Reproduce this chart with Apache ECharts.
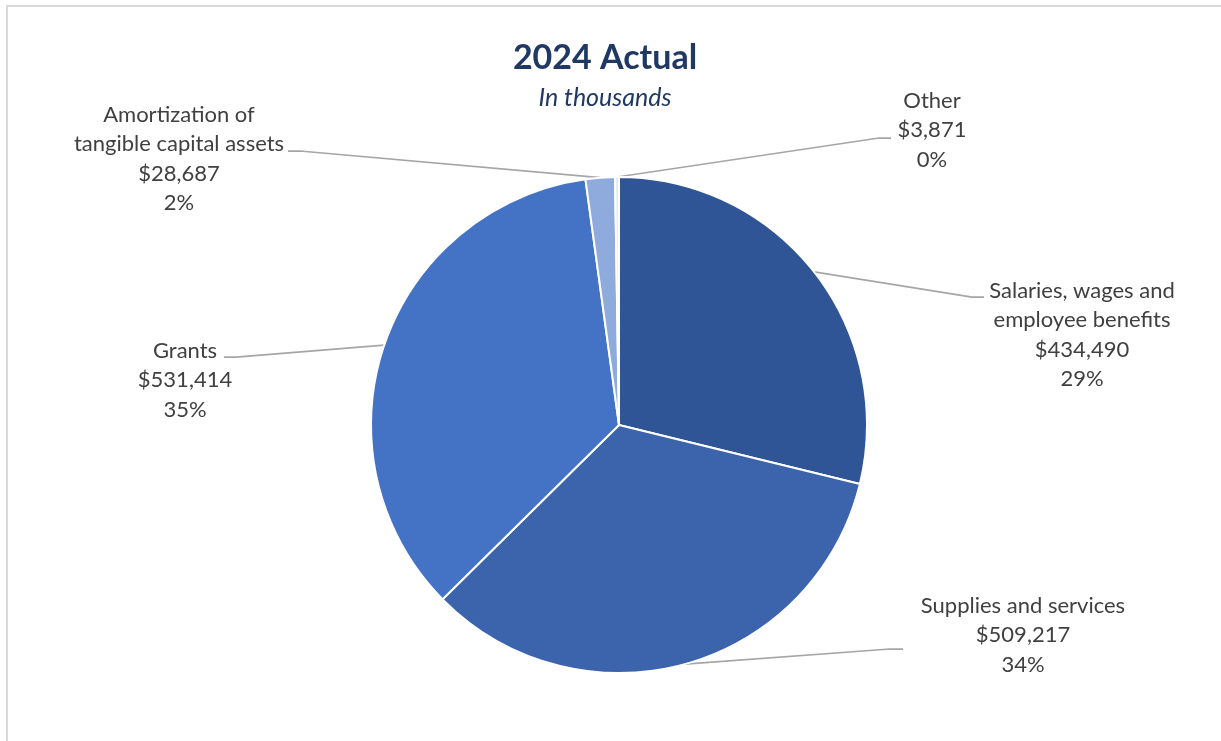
<!DOCTYPE html>
<html>
<head>
<meta charset="utf-8">
<title>2024 Actual</title>
<script src="https://cdn.jsdelivr.net/npm/echarts@6/dist/echarts.min.js"></script>
<style>
  html, body { margin: 0; padding: 0; background: #ffffff; }
  #frame {
    position: absolute; left: 6px; top: 5px; right: 0; bottom: 0;
    border-top: 2px solid #d9d9d9; border-left: 2px solid #d9d9d9;
  }
  #chart { position: absolute; left: 0; top: 0; width: 1221px; height: 741px; }
</style>
</head>
<body>
<div id="frame"></div>
<div id="chart"></div>
<script>
// Expense categories (in thousands of dollars), clockwise from 12 o'clock
const categories = [
  'Salaries, wages and\nemployee benefits',
  'Supplies and services',
  'Grants',
  'Amortization of\ntangible capital assets',
  'Other'
];
const amounts = [434490, 509217, 531414, 28687, 3871];
const sliceColors = ['#2f5597', '#3b64ad', '#4472c4', '#8faadc', '#e4ebf6'];

// Where each label block sits and where its leader line meets it
const labelSpots = [
  { x: 1082, y: 276, end: [984, 297], bend: [972, 297] },
  { x: 1023, y: 591, end: [903, 649], bend: [890, 649] },
  { x: 185,  y: 336, end: [224, 357], bend: [236, 357] },
  { x: 179,  y: 100, end: [288, 151], bend: [300, 151] },
  { x: 932,  y: 86,  end: [891, 138], bend: [879, 138] }
];

const center = [619, 425];
const radius = 248;
const total = amounts.reduce((a, b) => a + b, 0);

// Point on the rim at the middle of slice i
function midAnchor(i) {
  let before = 0;
  for (let k = 0; k < i; k++) before += amounts[k];
  const frac = (before + amounts[i] / 2) / total;
  const ang = frac * Math.PI * 2;
  return [center[0] + radius * Math.sin(ang), center[1] - radius * Math.cos(ang)];
}

const chart = echarts.init(document.getElementById('chart'), null, { renderer: 'canvas' });

chart.setOption({
  animation: false,
  title: [
    {
      text: '2024 Actual',
      left: 600, top: 33, textAlign: 'center',
      textStyle: { fontFamily: 'Lato', fontWeight: 'bold', fontSize: 34, color: '#203864', lineHeight: 40 }
    },
    {
      text: 'In thousands',
      left: 600, top: 78, textAlign: 'center',
      textStyle: { fontFamily: 'Lato', fontStyle: 'italic', fontWeight: 'normal', fontSize: 25, color: '#203864', lineHeight: 30 }
    }
  ],
  series: [{
    type: 'pie',
    center: center,
    radius: radius,
    startAngle: 90,
    clockwise: true,
    percentPrecision: 0,
    avoidLabelOverlap: false,
    itemStyle: { borderColor: '#ffffff', borderWidth: 2 },
    label: {
      show: true,
      position: 'outside',
      fontFamily: 'Lato',
      fontSize: 22,
      lineHeight: 29.5,
      color: '#404040',
      align: 'center',
      formatter: p => p.name + '\n$' + p.value.toLocaleString('en-US') + '\n' + p.percent + '%'
    },
    labelLine: {
      show: true,
      length: 20, length2: 10,
      lineStyle: { color: '#a6a6a6', width: 1.75 }
    },
    labelLayout: function (params) {
      const s = labelSpots[params.dataIndex];
      return {
        x: s.x, y: s.y,
        align: 'center', verticalAlign: 'top',
        labelLinePoints: [midAnchor(params.dataIndex), s.bend, s.end]
      };
    },
    emphasis: { disabled: true },
    data: categories.map((name, i) => ({
      name: name,
      value: amounts[i],
      itemStyle: { color: sliceColors[i] }
    }))
  }]
});
</script>
</body>
</html>
